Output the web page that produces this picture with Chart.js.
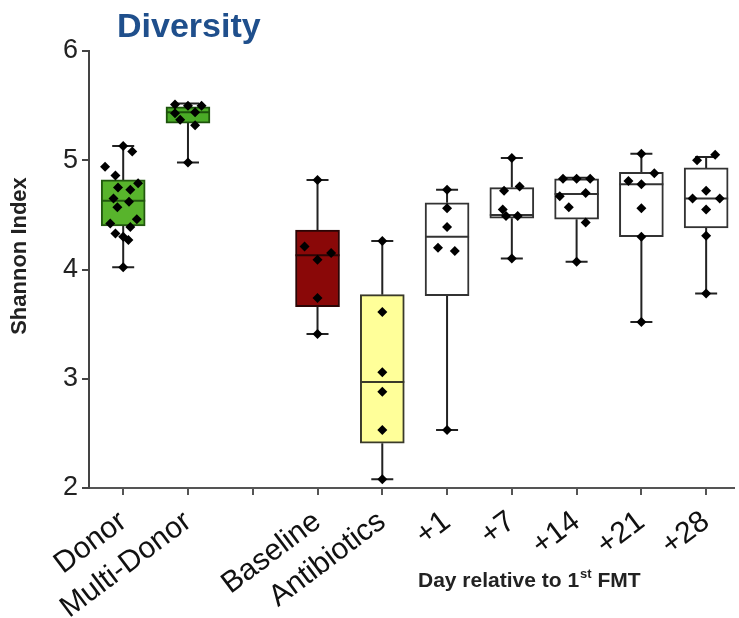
<!DOCTYPE html>
<html>
<head>
<meta charset="utf-8">
<script src="https://cdn.jsdelivr.net/npm/chart.js@4.4.1/dist/chart.umd.min.js"></script>
<style>
  html, body { margin: 0; padding: 0; background: #fff; overflow: hidden; }
  canvas { display: block; }
</style>
</head>
<body>
<canvas id="c" width="739" height="618"></canvas>
<script>
// Groups along the x axis (the third slot is an intentional gap)
const groups = ['Donor', 'Multi-Donor', '', 'Baseline', 'Antibiotics', '+1', '+7', '+14', '+21', '+28'];

// Five-number summaries of Shannon index per group
const mins    = [4.02, 4.98, null, 3.41, 2.08, 2.53, 4.10, 4.07, 3.52, 3.78];
const q1s     = [4.40, 5.34, null, 3.66, 2.41, 3.76, 4.47, 4.46, 4.30, 4.38];
const medians = [4.63, 5.44, null, 4.13, 2.97, 4.30, 4.50, 4.69, 4.78, 4.65];
const q3s     = [4.82, 5.49, null, 4.36, 3.77, 4.61, 4.75, 4.83, 4.89, 4.93];
const maxs    = [5.13, 5.52, null, 4.82, 4.26, 4.73, 5.02, 4.84, 5.06, 5.03];

// Individual samples per group
const donor       = [5.13, 5.08, 4.94, 4.86, 4.79, 4.75, 4.73, 4.65, 4.62, 4.57, 4.46, 4.42, 4.39, 4.33, 4.30, 4.27, 4.02];
const multiDonor  = [5.51, 5.50, 5.50, 5.43, 5.44, 5.37, 5.32, 4.98];
const baseline    = [4.82, 4.21, 4.15, 4.09, 3.74, 3.41];
const antibiotics = [4.26, 3.61, 3.06, 2.88, 2.53, 2.08];
const day1        = [4.73, 4.56, 4.39, 4.20, 4.17, 2.53];
const day7        = [5.02, 4.76, 4.72, 4.55, 4.49, 4.49, 4.10];
const day14       = [4.83, 4.83, 4.83, 4.70, 4.67, 4.57, 4.43, 4.07];
const day21       = [5.06, 4.88, 4.81, 4.78, 4.56, 4.30, 3.52];
const day28       = [5.05, 5.00, 4.72, 4.65, 4.65, 4.55, 4.31, 3.78];
const samples = [donor, multiDonor, [], baseline, antibiotics, day1, day7, day14, day21, day28];

// Horizontal scatter of the dots inside each box (in category units)
const jitter = [
  [0, .14, -.28, -.12, .23, -.08, .11, -.15, .09, -.09, .21, -.2, .11, -.12, 0, .08, 0],
  [-.2, 0, .21, -.2, .11, -.12, .11, 0],
  [],
  [0, -.2, .21, 0, 0, 0],
  [0, 0, 0, 0, 0, 0],
  [0, 0, 0, -.14, .12, 0],
  [0, .12, -.12, -.14, -.09, .09, 0],
  [-.21, 0, .21, .14, -.26, -.12, .14, 0],
  [0, .2, -.2, 0, 0, 0, 0],
  [.14, -.14, 0, -.21, .21, 0, 0, 0]
];

const boxFill   = ['#58b42c', '#4aab26', null, '#8a0808', '#ffff99', '#ffffff', '#ffffff', '#ffffff', '#ffffff', '#ffffff'];
const boxStroke = ['#22580f', '#1d520c', null, '#2b0505', '#3a3a2a', '#333333', '#333333', '#333333', '#333333', '#333333'];

const FONT = "'Liberation Sans', Arial, Helvetica, sans-serif";

const boxIdx = groups.map((g, i) => i).filter(i => q1s[i] !== null);
const boxData = boxIdx.map(i => ({ x: i, y: [q1s[i], q3s[i]] }));
const dotData = [];
samples.forEach((vals, i) => vals.forEach((v, k) => dotData.push({ x: i + jitter[i][k], y: v })));

// Whiskers, caps, medians and axis titles
const boxPlot = {
  id: 'boxPlot',
  beforeDatasetsDraw(chart) {
    const { ctx, scales: { x, y } } = chart;
    ctx.save();
    ctx.strokeStyle = '#222';
    ctx.lineWidth = 2;
    boxIdx.forEach(i => {
      const px = x.getPixelForValue(i);
      const yMin = y.getPixelForValue(mins[i]);
      const yMax = y.getPixelForValue(maxs[i]);
      ctx.beginPath();
      ctx.moveTo(px, yMin); ctx.lineTo(px, y.getPixelForValue(q1s[i]));
      ctx.moveTo(px, y.getPixelForValue(q3s[i])); ctx.lineTo(px, yMax);
      ctx.moveTo(px - 11, yMin); ctx.lineTo(px + 11, yMin);
      ctx.moveTo(px - 11, yMax); ctx.lineTo(px + 11, yMax);
      ctx.stroke();
    });
    ctx.restore();
  },
  afterDatasetDraw(chart, args) {
    if (args.meta.type !== 'bar') return;
    const { ctx, scales: { y } } = chart;
    ctx.save();
    ctx.lineWidth = 2;
    args.meta.data.forEach((bar, k) => {
      const i = boxIdx[k];
      const py = y.getPixelForValue(medians[i]);
      const half = bar.width / 2;
      ctx.strokeStyle = boxStroke[i];
      ctx.beginPath();
      ctx.moveTo(bar.x - half, py); ctx.lineTo(bar.x + half, py);
      ctx.stroke();
    });
    ctx.restore();
  },
  afterDraw(chart) {
    const { ctx } = chart;
    ctx.save();
    // chart title
    ctx.fillStyle = '#1f4f8c';
    ctx.font = `bold 34px ${FONT}`;
    ctx.textAlign = 'left';
    ctx.textBaseline = 'alphabetic';
    ctx.fillText('Diversity', 117, 37);

    // y axis title
    ctx.fillStyle = '#222';
    ctx.font = `bold 22px ${FONT}`;
    ctx.save();
    ctx.translate(20, 256);
    ctx.rotate(-Math.PI / 2);
    ctx.textAlign = 'center';
    ctx.textBaseline = 'middle';
    ctx.fillText('Shannon Index', 0, 0);
    ctx.restore();

    // x axis caption with superscript
    let cx = 418;
    const base = 587;
    ctx.textAlign = 'left';
    ctx.font = `bold 21px ${FONT}`;
    ctx.fillText('Day relative to 1', cx, base);
    cx += ctx.measureText('Day relative to 1').width + 1;
    ctx.font = `bold 13px ${FONT}`;
    ctx.fillText('st', cx, base - 9);
    cx += ctx.measureText('st').width;
    ctx.font = `bold 21px ${FONT}`;
    ctx.fillText(' FMT', cx, base);
    ctx.restore();
  }
};

new Chart(document.getElementById('c'), {
  type: 'bar',
  data: {
    datasets: [
      {
        type: 'scatter',
        data: dotData,
        order: 0,
        pointStyle: 'rectRot',
        radius: 5,
        backgroundColor: '#000',
        borderColor: '#000',
        borderWidth: 0
      },
      {
        type: 'bar',
        data: boxData,
        order: 1,
        barThickness: 44,
        backgroundColor: boxIdx.map(i => boxFill[i]),
        borderColor: boxIdx.map(i => boxStroke[i]),
        borderWidth: 2,
        borderSkipped: false
      }
    ]
  },
  options: {
    responsive: false,
    devicePixelRatio: 1,
    animation: false,
    events: [],
    layout: { padding: { top: 51, left: 0, right: 0, bottom: 0 } },
    plugins: { legend: { display: false }, tooltip: { enabled: false }, title: { display: false } },
    scales: {
      x: {
        type: 'linear',
        min: -0.528,
        max: 9.43,
        offset: false,
        afterBuildTicks(scale) { scale.ticks = groups.map((g, i) => ({ value: i })); },
        afterFit(scale) { scale.height = 130; },
        grid: { offset: false, drawOnChartArea: false, tickLength: 7, color: '#555', lineWidth: 2 },
        border: { display: true, color: '#555', width: 2 },
        ticks: {
          autoSkip: false,
          minRotation: 37,
          maxRotation: 37,
          padding: 9,
          color: '#111',
          font: { family: FONT, size: 30 },
          callback: (v) => groups[v] ?? ''
        }
      },
      y: {
        min: 2,
        max: 6,
        afterFit(scale) { scale.width = 89; },
        grid: { drawOnChartArea: false, tickLength: 7, color: '#444', lineWidth: 2 },
        border: { display: true, color: '#444', width: 2 },
        ticks: {
          stepSize: 1,
          padding: 4,
          color: '#222',
          font: { family: FONT, size: 27 }
        }
      }
    }
  },
  plugins: [boxPlot]
});
</script>
</body>
</html>
